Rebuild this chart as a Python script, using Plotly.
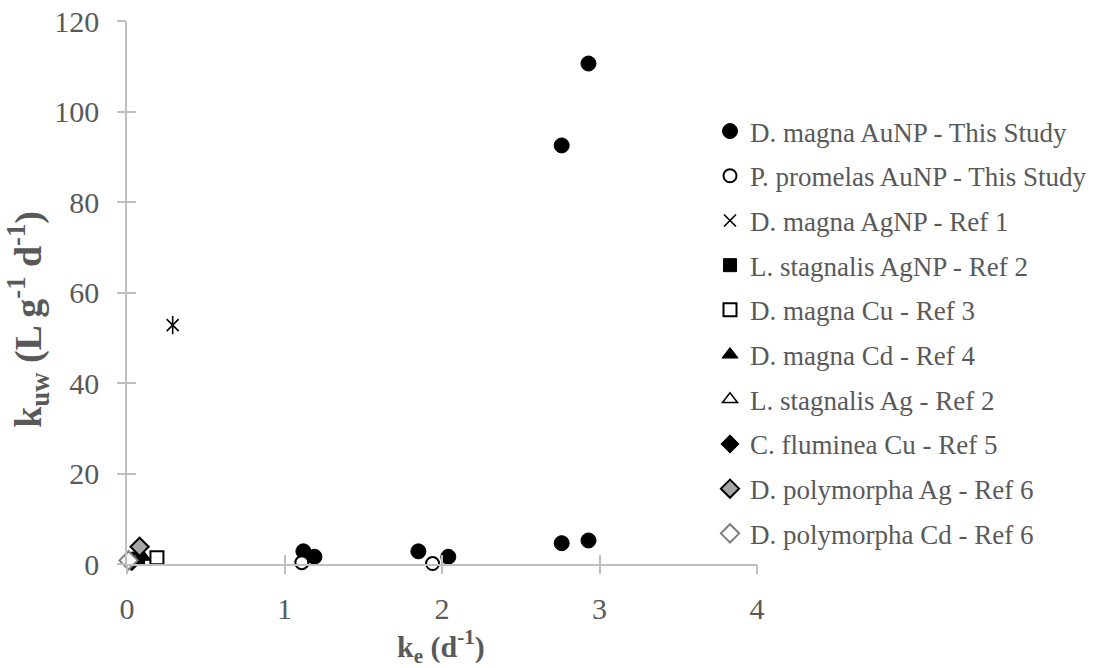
import plotly.graph_objects as go

# Elimination rate constant k_e (d^-1) and uptake rate constant k_uw (L g^-1 d^-1)
dm_aunp_ke = [2.76, 2.93, 1.12, 1.19, 1.85, 2.04, 2.76, 2.93]
dm_aunp_kuw = [92.5, 110.6, 2.8, 1.6, 2.8, 1.6, 4.6, 5.2]

pp_aunp_ke = [1.11, 1.94]
pp_aunp_kuw = [0.3, 0.1]

dm_agnp_ke = [0.29]
dm_agnp_kuw = [52.8]

ls_agnp_ke = [0.07]
ls_agnp_kuw = [1.2]

dm_cu_ke = [0.19]
dm_cu_kuw = [1.4]

dm_cd_ke = [0.10]
dm_cd_kuw = [1.6]

ls_ag_ke = [0.05]
ls_ag_kuw = [0.9]

cf_cu_ke = [0.03]
cf_cu_kuw = [0.5]

dp_ag_ke = [0.08]
dp_ag_kuw = [3.8]

dp_cd_ke = [0.01]
dp_cd_kuw = [0.8]

x_ticks = [0, 1, 2, 3, 4]
y_ticks = [0, 20, 40, 60, 80, 100, 120]

FONT = "Liberation Serif, Times New Roman, serif"
TEXT = "#595959"
AXIS = "#bfbfbf"

fig = go.Figure()


def add(name, xs, ys, symbol, fill, line, size=14, lw=1.5, legend=True, group=None):
    fig.add_trace(go.Scatter(
        x=xs, y=ys, mode="markers", name=name,
        legendgroup=group or name, showlegend=legend,
        cliponaxis=False,
        marker=dict(symbol=symbol, size=size, color=fill,
                    line=dict(color=line, width=lw)),
    ))


add("D. magna AuNP - This Study", dm_aunp_ke, dm_aunp_kuw, "circle", "black", "black", 15, 1)
add("P. promelas AuNP - This Study", pp_aunp_ke, pp_aunp_kuw, "circle", "white", "black", 13, 2)
add("D. magna AgNP - Ref 1", dm_agnp_ke, dm_agnp_kuw, "x-thin-open", "black", "black", 12, 1.6)
add("D. magna AgNP - Ref 1 (stem)", dm_agnp_ke, dm_agnp_kuw, "line-ns-open", "black", "black", 13, 1.6,
    legend=False, group="D. magna AgNP - Ref 1")
add("L. stagnalis AgNP - Ref 2", ls_agnp_ke, ls_agnp_kuw, "square", "black", "black", 13, 1)
add("D. magna Cu - Ref 3", dm_cu_ke, dm_cu_kuw, "square", "white", "black", 13, 2)
add("D. magna Cd - Ref 4", dm_cd_ke, dm_cd_kuw, "triangle-up", "black", "black", 14, 1)
add("L. stagnalis Ag - Ref 2", ls_ag_ke, ls_ag_kuw, "triangle-up", "white", "black", 13, 1.5)
add("C. fluminea Cu - Ref 5", cf_cu_ke, cf_cu_kuw, "diamond", "black", "black", 14, 1)
add("D. polymorpha Ag - Ref 6", dp_ag_ke, dp_ag_kuw, "diamond", "#a6a6a6", "black", 14, 2)
add("D. polymorpha Cd - Ref 6", dp_cd_ke, dp_cd_kuw, "diamond", "white", "#7f7f7f", 14, 2)

axis_common = dict(
    showgrid=False, zeroline=False, showline=True, linecolor=AXIS, linewidth=1.5,
    ticks="inside", ticklen=9, tickcolor=AXIS, tickwidth=1.5,
    tickfont=dict(family=FONT, size=30, color=TEXT),
    ticklabeloverflow="allow",
)
# outer half of the cross-style tick marks, drawn by overlay axes
tick_overlay = dict(showticklabels=False, showgrid=False, zeroline=False, showline=False,
                    ticks="outside", ticklen=9, tickcolor=AXIS, tickwidth=1.5)

fig.update_layout(
    width=1094, height=668,
    margin=dict(l=127, r=337, t=21, b=104, autoexpand=False),
    paper_bgcolor="white", plot_bgcolor="white",
    font=dict(family=FONT, color=TEXT),
    xaxis=dict(range=[0, 4], tickvals=x_ticks, ticklabelstandoff=17, **axis_common),
    yaxis=dict(range=[0, 120], tickvals=y_ticks, ticklabelstandoff=20, **axis_common),
    xaxis2=dict(overlaying="x", matches="x", range=[0, 4], tickvals=x_ticks, **tick_overlay),
    yaxis2=dict(overlaying="y", matches="y", range=[0, 120], tickvals=y_ticks, **tick_overlay),
    legend=dict(x=0.9254, xanchor="left", y=0.8416, yanchor="top",
                font=dict(family=FONT, size=27, color=TEXT),
                tracegroupgap=6.6, itemwidth=30, bgcolor="rgba(0,0,0,0)"),
    showlegend=True,
    annotations=[
        dict(text="<b>k<sub>e</sub> (d<sup>-1</sup>)</b>", xref="paper", yref="paper",
             x=0.498, y=-0.152, xanchor="center", yanchor="middle", showarrow=False,
             font=dict(family=FONT, size=30, color=TEXT)),
        dict(text="<b>k<sub>uw</sub> (L g<sup>-1</sup> d<sup>-1</sup>)</b>", xref="paper", yref="paper",
             x=-0.157, y=0.45, xanchor="center", yanchor="middle", textangle=-90, showarrow=False,
             font=dict(family=FONT, size=38, color=TEXT)),
    ],
)

# invisible trace so the overlay axes are drawn
fig.add_trace(go.Scatter(x=[None], y=[None], xaxis="x2", yaxis="y2",
                         showlegend=False, hoverinfo="skip"))

fig.write_html("out.html")
